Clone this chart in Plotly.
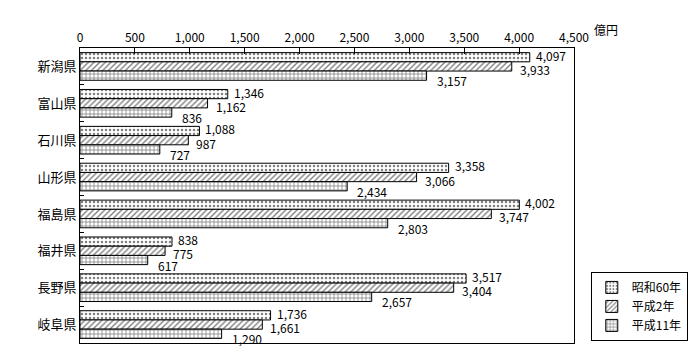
import plotly.graph_objects as go

prefectures = ["新潟県", "富山県", "石川県", "山形県", "福島県", "福井県", "長野県", "岐阜県"]
series_names = ["昭和60年", "平成2年", "平成11年"]
s60 = [4097, 1346, 1088, 3358, 4002, 838, 3517, 1736]
h2 = [3933, 1162, 987, 3066, 3747, 775, 3404, 1661]
h11 = [3157, 836, 727, 2434, 2803, 617, 2657, 1290]
x_ticks = [0, 500, 1000, 1500, 2000, 2500, 3000, 3500, 4000, 4500]

series = [s60, h2, h11]
patterns = [".", "/", "+"]

FONT = "Noto Sans CJK JP, Noto Sans, sans-serif"

fig = go.Figure()
for name, vals, pat in zip(series_names, series, patterns):
    fig.add_trace(go.Bar(
        y=prefectures, x=vals, name=name, orientation="h",
        marker=dict(color="white", line=dict(color="black", width=1),
                    pattern=dict(shape=pat, fgcolor="black", bgcolor="white",
                                 size=4, solidity=0.3 if pat == "." else 0.35)),
    ))

# value labels
bw = 0.25
offsets = [-bw, 0, bw]
yshifts = [2, -3, -5]
xshifts = [4, 6, 8]
annotations = []
for k, vals in enumerate(series):
    for i, v in enumerate(vals):
        annotations.append(dict(
            x=v, y=i + offsets[k], xref="x", yref="y", text=f"{v:,}",
            showarrow=False, xanchor="left", yanchor="middle",
            xshift=xshifts[k], yshift=yshifts[k],
            font=dict(family=FONT, size=12, color="black"),
        ))
annotations.append(dict(
    x=1.0, y=1.0, xref="paper", yref="paper", text="億円", showarrow=False,
    xanchor="left", yanchor="bottom", xshift=18, yshift=8,
    font=dict(family=FONT, size=12, color="black"),
))

fig.update_layout(
    width=692, height=352,
    margin=dict(l=72, r=114, t=40, b=17),
    paper_bgcolor="white", plot_bgcolor="white",
    barmode="group", bargap=0.25, bargroupgap=0,
    font=dict(family=FONT, size=12, color="black"),
    annotations=annotations,
    showlegend=True,
    legend=dict(x=1.034, y=0.007, xanchor="left", yanchor="bottom",
                bordercolor="black", borderwidth=1, bgcolor="white",
                font=dict(family=FONT, size=12), tracegroupgap=4,
                itemwidth=30),
)
fig.update_xaxes(
    side="top", range=[0, 4500], tickvals=x_ticks,
    ticktext=[f"{t:,}" for t in x_ticks],
    ticks="inside", ticklen=6, tickcolor="black",
    showline=True, linecolor="black", linewidth=1, mirror=True,
    showgrid=False, zeroline=False, automargin=False,
    tickfont=dict(family=FONT, size=12),
)
fig.update_yaxes(
    autorange="reversed", ticks="inside", ticklen=4, tickcolor="black",
    tickson="boundaries",
    showline=True, linecolor="black", linewidth=1, mirror=True,
    showgrid=False, zeroline=False, automargin=False,
    tickfont=dict(family=FONT, size=13),
)

fig.write_html("out.html")
